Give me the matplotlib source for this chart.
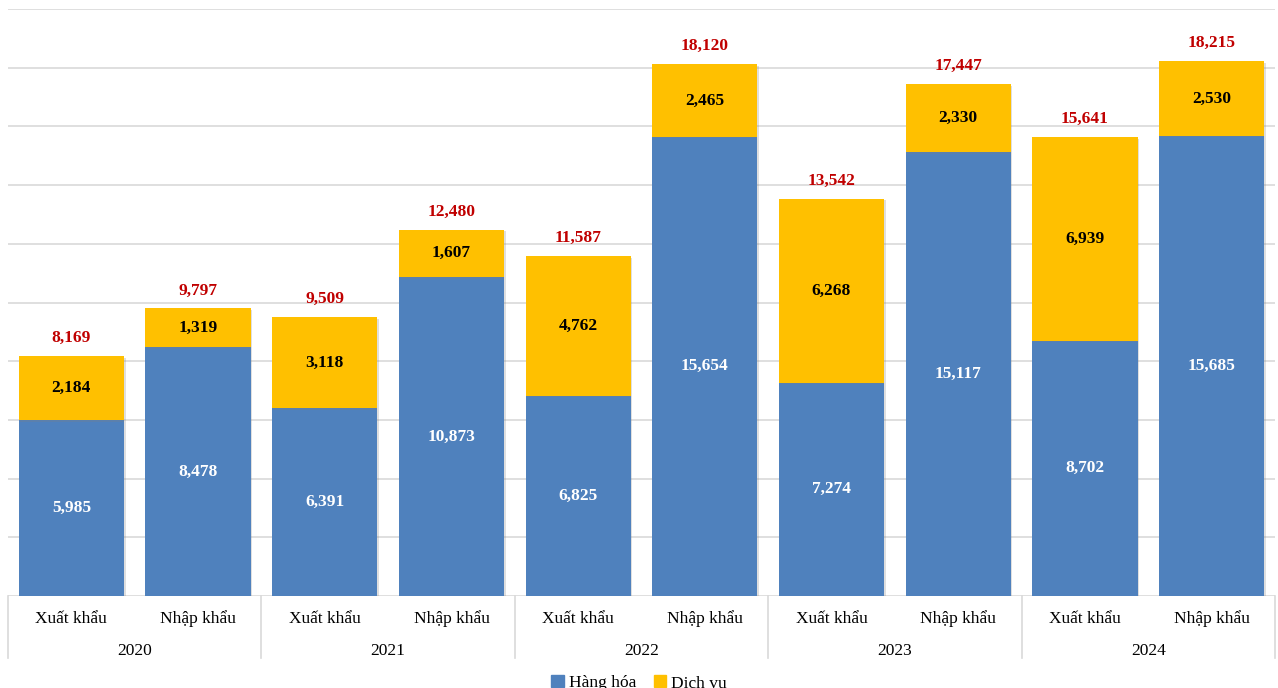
import matplotlib
matplotlib.use('Agg')
import matplotlib.pyplot as plt
import matplotlib.patheffects as pe
from matplotlib.patches import Patch
import numpy as np

years = ["2020", "2021", "2022", "2023", "2024"]
flows = ["Xuất khẩu", "Nhập khẩu"]

# order: XK 2020, NK 2020, XK 2021, NK 2021, ...
hang_hoa = [5985, 8478, 6391, 10873, 6825, 15654, 7274, 15117, 8702, 15685]
dich_vu = [2184, 1319, 3118, 1607, 4762, 2465, 6268, 2330, 6939, 2530]
tong = [8169, 9797, 9509, 12480, 11587, 18120, 13542, 17447, 15641, 18215]

BLUE = "#4F81BD"
GOLD = "#FFC000"
RED = "#C00000"
GRID = "#D9D9D9"

plt.rcParams['font.family'] = ['Liberation Serif', 'DejaVu Serif']

fig = plt.figure(figsize=(12.78, 6.88), dpi=100)
ax = fig.add_axes([8 / 1278, 92 / 688, 1267 / 1278, 587 / 688])

x = np.arange(len(hang_hoa))
w = 0.83
shadow = [pe.SimplePatchShadow(offset=(1.2, -1.2), shadow_rgbFace='gray', alpha=0.25), pe.Normal()]
b1 = ax.bar(x, hang_hoa, w, color=BLUE, zorder=3)
b2 = ax.bar(x, dich_vu, w, bottom=hang_hoa, color=GOLD, zorder=3)
for p in list(b1) + list(b2):
    p.set_path_effects(shadow)

for i in x:
    ax.text(i, hang_hoa[i] / 2, f"{hang_hoa[i]:,}", ha='center', va='center',
            color='white', fontsize=12.5, fontweight='bold', zorder=4)
    ax.text(i, hang_hoa[i] + dich_vu[i] / 2, f"{dich_vu[i]:,}", ha='center', va='center',
            color='black', fontsize=12.5, fontweight='bold', zorder=4)
    ax.annotate(f"{tong[i]:,}", (i, hang_hoa[i] + dich_vu[i]), xytext=(0, 13),
                textcoords='offset points', ha='center', va='center',
                color=RED, fontsize=12.5, fontweight='bold')

ax.set_xlim(-0.5, len(x) - 0.5)
ax.set_ylim(0, 20000)
ax.set_yticks(np.arange(0, 20001, 2000))
ax.yaxis.grid(True, color=GRID, linewidth=1.2, zorder=0)
ax.set_xticks([])
ax.tick_params(left=False, labelleft=False)
for s in ax.spines.values():
    s.set_visible(False)

# two-level category axis
trans = ax.get_xaxis_transform()
for i in x:
    ax.text(i, -23 / 587, flows[i % 2], transform=trans, ha='center', va='center',
            fontsize=12.5)
for k, yr in enumerate(years):
    ax.text(2 * k + 0.5, -55 / 587, yr, transform=trans, ha='center', va='center',
            fontsize=12.5)
for k in range(len(years) + 1):
    ax.plot([2 * k - 0.5, 2 * k - 0.5], [0, -62 / 587], transform=trans,
            color=GRID, linewidth=1.2, clip_on=False)

handles = [Patch(color=BLUE, label="Hàng hóa"), Patch(color=GOLD, label="Dịch vụ")]
fig.legend(handles=handles, loc='center', bbox_to_anchor=(0.5, 5 / 688), ncol=2,
           frameon=False, fontsize=12.5, handlelength=0.7, handleheight=0.7,
           handletextpad=0.3, columnspacing=1.0)

fig.savefig("out.png", dpi=100)
